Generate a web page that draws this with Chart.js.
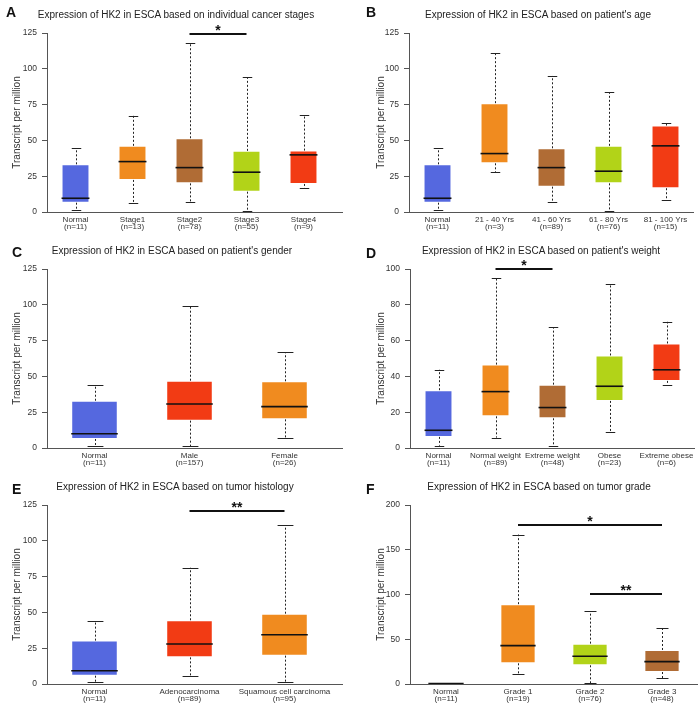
<!DOCTYPE html>
<html>
<head>
<meta charset="utf-8">
<script src="https://cdn.jsdelivr.net/npm/chart.js@4.4.0/dist/chart.umd.min.js"></script>
<style>
body { margin: 0; background: #fff; font-family: "Liberation Sans", Arial, sans-serif; }
#wrap { position: relative; width: 700px; height: 707px; overflow: hidden; }
canvas { position: absolute; }
.ttl { position: absolute; font-size: 10px; color: #222; white-space: nowrap; transform: translate(-50%, -50%); }
.lt { position: absolute; font-size: 14px; font-weight: bold; color: #111; transform: translateY(-50%); }
</style>
</head>
<body>
<div id="wrap">
  <canvas id="cA" width="350" height="235" style="left:0;top:0"></canvas>
  <canvas id="cB" width="350" height="235" style="left:350px;top:0"></canvas>
  <canvas id="cC" width="350" height="235" style="left:0;top:235px"></canvas>
  <canvas id="cD" width="350" height="235" style="left:350px;top:235px"></canvas>
  <canvas id="cE" width="350" height="237" style="left:0;top:470px"></canvas>
  <canvas id="cF" width="350" height="237" style="left:350px;top:470px"></canvas>

  <div class="lt" style="left:6px;top:12px">A</div>
  <div class="lt" style="left:366px;top:12px">B</div>
  <div class="lt" style="left:12px;top:252px">C</div>
  <div class="lt" style="left:366px;top:253px">D</div>
  <div class="lt" style="left:12px;top:489px">E</div>
  <div class="lt" style="left:366px;top:489px">F</div>

  <div class="ttl" style="left:176px;top:14px">Expression of HK2 in ESCA based on individual cancer stages</div>
  <div class="ttl" style="left:538px;top:14px">Expression of HK2 in ESCA based on patient's age</div>
  <div class="ttl" style="left:172px;top:250px">Expression of HK2 in ESCA based on patient's gender</div>
  <div class="ttl" style="left:541px;top:250px">Expression of HK2 in ESCA based on patient's weight</div>
  <div class="ttl" style="left:175px;top:486px">Expression of HK2 in ESCA based on tumor histology</div>
  <div class="ttl" style="left:539px;top:486px">Expression of HK2 in ESCA based on tumor grade</div>
</div>

<script>
// --- DATA ---
// A: cancer stages
const aLabels = [['Normal', '(n=11)'], ['Stage1', '(n=13)'], ['Stage2', '(n=78)'], ['Stage3', '(n=55)'], ['Stage4', '(n=9)']];
const aMin = [1.4, 6, 6.8, 1, 16.6];
const aQ1 = [6.5, 22.4, 20, 14.2, 19.6];
const aMed = [9.6, 35.2, 31, 27.8, 39.9];
const aQ3 = [33.3, 46.2, 51.5, 42.7, 42.9];
const aMax = [44.5, 67.2, 118, 94, 67.9];
const aSig = [[2, 3, '*', 124.5]];

// B: age
const bLabels = [['Normal', '(n=11)'], ['21 - 40 Yrs', '(n=3)'], ['41 - 60 Yrs', '(n=89)'], ['61 - 80 Yrs', '(n=76)'], ['81 - 100 Yrs', '(n=15)']];
const bMin = [1.4, 27.8, 6.8, 1, 8.2];
const bQ1 = [6.5, 34, 17.7, 20, 16.6];
const bMed = [9.6, 40.8, 31, 28.5, 46.2];
const bQ3 = [33.3, 76, 44.5, 46.2, 60.4];
const bMax = [44.5, 111, 95, 83.7, 62.3];

// C: gender
const cLabels = [['Normal', '(n=11)'], ['Male', '(n=157)'], ['Female', '(n=26)']];
const cMin = [1.4, 1.4, 7.2];
const cQ1 = [6.3, 19.1, 20];
const cMed = [10, 30.7, 28.9];
const cQ3 = [33, 47, 46.6];
const cMax = [44, 99.2, 67];

// D: weight
const dLabels = [['Normal', '(n=11)'], ['Normal weight', '(n=89)'], ['Extreme weight', '(n=48)'], ['Obese', '(n=23)'], ['Extreme obese', '(n=6)']];
const dMin = [1.3, 5.8, 0.9, 8.8, 35.3];
const dQ1 = [6.2, 17.7, 16.6, 26.3, 37.5];
const dMed = [9.9, 31.5, 22.6, 34.5, 43.7];
const dQ3 = [32.3, 46.6, 35.4, 51.7, 58.4];
const dMax = [43.7, 94.8, 67.5, 91.8, 70.5];
const dSig = [[1, 2, '*', 100]];

// E: histology
const eLabels = [['Normal', '(n=11)'], ['Adenocarcinoma', '(n=89)'], ['Squamous cell carcinoma', '(n=95)']];
const eMin = [1.4, 5.8, 1.2];
const eQ1 = [5.8, 18.6, 19.8];
const eMed = [9.3, 27.9, 34.4];
const eQ3 = [30.3, 44.5, 49.1];
const eMax = [44, 81.2, 110.8];
const eSig = [[1, 2, '**', 120.8]];

// F: tumor grade
const fLabels = [['Normal', '(n=11)'], ['Grade 1', '(n=19)'], ['Grade 2', '(n=76)'], ['Grade 3', '(n=48)']];
const fMin = [0.1, 10.8, 1.1, 6.3];
const fQ1 = [0.2, 23.1, 20.9, 13.4];
const fMed = [0.4, 42.9, 31, 25];
const fQ3 = [0.7, 89.2, 45.1, 38];
const fMax = [0.9, 167, 81.3, 63];
const fSig = [[1, 3, '*', 177.6], [2, 3, '**', 101]];

const BLUE = '#5568df', ORANGE = '#f08b1f', BROWN = '#b06c35', LIME = '#b2d318', RED = '#f23b14';
const FONT = '"Liberation Sans", Arial, sans-serif';

// draws whiskers, caps, medians, the x axis line and significance bars
function boxPlugin(mins, meds, maxs, sig, ext) {
    return {
        id: 'boxes',
        afterDatasetsDraw(chart) {
            const { ctx, scales: { x, y }, chartArea: a } = chart;
            const meta = chart.getDatasetMeta(0);
            ctx.save();
            meta.data.forEach((bar, i) => {
                const cx = Math.round(bar.x) + 0.5;
                const w = bar.width;
                const yMin = y.getPixelForValue(mins[i]);
                const yMax = y.getPixelForValue(maxs[i]);
                const yMed = y.getPixelForValue(meds[i]);
                const top = Math.min(bar.y, bar.base);
                const bot = Math.max(bar.y, bar.base);

                ctx.strokeStyle = '#222';
                ctx.lineWidth = 1;
                ctx.setLineDash([2, 2]);
                ctx.beginPath();
                ctx.moveTo(cx, top); ctx.lineTo(cx, yMax);
                ctx.moveTo(cx, bot); ctx.lineTo(cx, yMin);
                ctx.stroke();

                ctx.setLineDash([]);
                const cw = w * 0.17;
                ctx.beginPath();
                ctx.moveTo(cx - cw, Math.round(yMax) + 0.5); ctx.lineTo(cx + cw, Math.round(yMax) + 0.5);
                ctx.moveTo(cx - cw, Math.round(yMin) + 0.5); ctx.lineTo(cx + cw, Math.round(yMin) + 0.5);
                ctx.stroke();

                ctx.strokeStyle = '#111';
                ctx.lineWidth = 1.6;
                ctx.beginPath();
                ctx.moveTo(bar.x - w / 2, yMed); ctx.lineTo(bar.x + w / 2, yMed);
                ctx.stroke();
            });

            // x axis line (runs a bit past the last box on the left panels)
            ctx.strokeStyle = '#555';
            ctx.lineWidth = 1;
            ctx.beginPath();
            ctx.moveTo(a.left, a.bottom + 0.5);
            ctx.lineTo(a.right + ext, a.bottom + 0.5);
            ctx.stroke();

            // significance markers
            sig.forEach(s => {
                const x1 = x.getPixelForValue(s[0]);
                const x2 = x.getPixelForValue(s[1]);
                const yy = Math.round(y.getPixelForValue(s[3]));
                ctx.strokeStyle = '#111';
                ctx.lineWidth = 2;
                ctx.beginPath();
                ctx.moveTo(x1, yy); ctx.lineTo(x2, yy);
                ctx.stroke();
                ctx.fillStyle = '#111';
                ctx.font = 'bold 14px ' + FONT;
                ctx.textAlign = 'center';
                ctx.textBaseline = 'alphabetic';
                ctx.fillText(s[2], (x1 + x2) / 2, yy + 1);
            });
            ctx.restore();
        }
    };
}

function makePanel(id, labels, mins, q1s, meds, q3s, maxs, colors, yMax, yStep, sig, g) {
    new Chart(document.getElementById(id), {
        type: 'bar',
        data: {
            labels: labels,
            datasets: [{
                data: q1s.map((q, i) => [q, q3s[i]]),
                backgroundColor: colors,
                borderColor: 'rgba(255,255,255,0.35)',
                borderWidth: 1,
                borderSkipped: false,
                barPercentage: 0.49,
                categoryPercentage: 1
            }]
        },
        options: {
            responsive: false,
            animation: false,
            devicePixelRatio: 1,
            layout: { padding: { top: g.top, right: g.right, left: 0, bottom: 0 } },
            plugins: { legend: { display: false }, tooltip: { enabled: false } },
            scales: {
                x: {
                    grid: { display: false, drawTicks: false },
                    border: { display: false },
                    ticks: { color: '#333', font: { size: 8, family: FONT, lineHeight: 0.9 }, padding: 4, maxRotation: 0, autoSkip: false },
                    afterFit: s => { s.height = g.xh; }
                },
                y: {
                    min: 0,
                    max: yMax,
                    grid: { drawOnChartArea: false, tickLength: 5, color: '#555' },
                    border: { color: '#555' },
                    ticks: { stepSize: yStep, color: '#333', font: { size: 8.5, family: FONT }, padding: 5 },
                    title: { display: true, text: 'Transcript per million', color: '#333', font: { size: 10, family: FONT }, padding: { top: g.tx - 6, bottom: 0 } },
                    afterFit: s => { s.width = g.yw; }
                }
            }
        },
        plugins: [boxPlugin(mins, meds, maxs, sig, g.ext)]
    });
}

makePanel('cA', aLabels, aMin, aQ1, aMed, aQ3, aMax, [BLUE, ORANGE, BROWN, LIME, RED], 125, 25, aSig,
    { top: 33, right: 18, yw: 47, xh: 23, tx: 17, ext: 11 });
makePanel('cB', bLabels, bMin, bQ1, bMed, bQ3, bMax, [BLUE, ORANGE, BROWN, LIME, RED], 125, 25, [],
    { top: 33, right: 6, yw: 59, xh: 23, tx: 31, ext: 0 });
makePanel('cC', cLabels, cMin, cQ1, cMed, cQ3, cMax, [BLUE, RED, ORANGE], 125, 25, [],
    { top: 34, right: 18, yw: 47, xh: 22, tx: 17, ext: 11 });
makePanel('cD', dLabels, dMin, dQ1, dMed, dQ3, dMax, [BLUE, ORANGE, BROWN, LIME, RED], 100, 20, dSig,
    { top: 34, right: 5, yw: 60, xh: 22, tx: 31, ext: 0 });
makePanel('cE', eLabels, eMin, eQ1, eMed, eQ3, eMax, [BLUE, RED, ORANGE], 125, 25, eSig,
    { top: 35, right: 18, yw: 47, xh: 23, tx: 17, ext: 11 });
makePanel('cF', fLabels, fMin, fQ1, fMed, fQ3, fMax, [BLUE, ORANGE, LIME, BROWN], 200, 50, fSig,
    { top: 35, right: 2, yw: 60, xh: 23, tx: 31, ext: 0 });
</script>
</body>
</html>
